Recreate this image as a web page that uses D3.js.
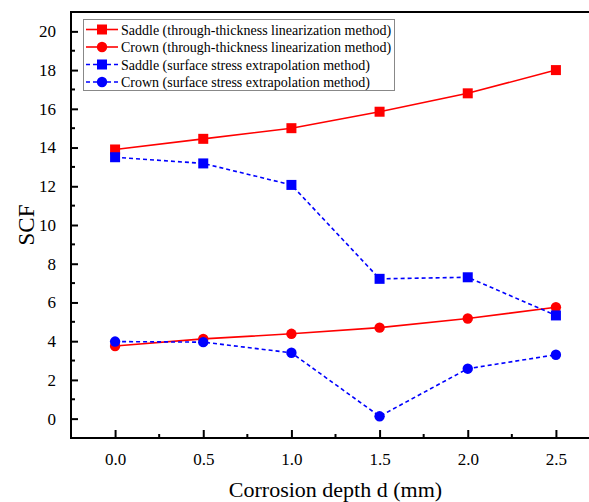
<!DOCTYPE html>
<html>
<head>
<meta charset="utf-8">
<script src="https://cdn.jsdelivr.net/npm/d3@7/dist/d3.min.js"></script>
<style>
  html, body { margin: 0; padding: 0; background: #fff; overflow: hidden; }
  svg text { font-family: "Liberation Serif", "Times New Roman", serif; }
</style>
</head>
<body>
<svg id="chart" width="589" height="502"></svg>
<script>
// Corrosion depth d (mm)
const depths = [0.0, 0.5, 1.0, 1.5, 2.0, 2.5];
// SCF values per method and location
const saddleLinearization = [13.9, 14.45, 15.0, 15.85, 16.8, 18.0];
const crownLinearization  = [3.75, 4.12, 4.38, 4.7, 5.17, 5.75];
const saddleExtrapolation = [13.5, 13.18, 12.07, 7.22, 7.3, 5.33];
const crownExtrapolation  = [3.98, 3.95, 3.4, 0.12, 2.58, 3.3];

const xTicks = [0.0, 0.5, 1.0, 1.5, 2.0, 2.5];
const yTicks = [0, 2, 4, 6, 8, 10, 12, 14, 16, 18, 20];

const seriesNames = [
  "Saddle (through-thickness linearization method)",
  "Crown (through-thickness linearization method)",
  "Saddle (surface stress extrapolation method)",
  "Crown (surface stress extrapolation method)"
];

const series = [
  { name: seriesNames[0], values: saddleLinearization, color: "#ff0000", dash: null, marker: "square" },
  { name: seriesNames[1], values: crownLinearization,  color: "#ff0000", dash: null, marker: "circle" },
  { name: seriesNames[2], values: saddleExtrapolation, color: "#0000ff", dash: "4,3", marker: "square" },
  { name: seriesNames[3], values: crownExtrapolation,  color: "#0000ff", dash: "4,3", marker: "circle" }
];

const FONT = "Liberation Serif";
const svg = d3.select("#chart");
const plot = { left: 71, top: 12, right: 600, bottom: 438 };

const x = d3.scaleLinear().domain([-0.25, 2.75]).range([plot.left, plot.right]);
const y = d3.scaleLinear().domain([-1, 21]).range([plot.bottom, plot.top]);

// Axes with inward ticks
const xAxis = d3.axisBottom(x).tickValues(xTicks).tickFormat(d3.format(".1f"))
  .tickSizeInner(-8).tickSizeOuter(0).tickPadding(15);
const yAxis = d3.axisLeft(y).tickValues(yTicks).tickFormat(d3.format("d"))
  .tickSizeInner(-7).tickSizeOuter(0).tickPadding(15);

// minor ticks
const xMinor = [-0.25, 0.25, 0.75, 1.25, 1.75, 2.25];
const yMinor = d3.range(-1, 22, 2);

const gx = svg.append("g").attr("transform", `translate(0,${plot.bottom})`).call(xAxis)
  .attr("font-family", FONT).attr("font-size", 17);
gx.select(".domain").remove();
gx.selectAll(".tick line").attr("stroke", "#000").attr("stroke-width", 2);
gx.selectAll(".tick text").attr("fill", "#000");
gx.selectAll(".minor").data(xMinor).enter().append("line")
  .attr("x1", d => x(d)).attr("x2", d => x(d)).attr("y1", 0).attr("y2", -4)
  .attr("stroke", "#000").attr("stroke-width", 2);

const gy = svg.append("g").attr("transform", `translate(${plot.left},0)`).call(yAxis)
  .attr("font-family", FONT).attr("font-size", 17);
gy.select(".domain").remove();
gy.selectAll(".tick line").attr("stroke", "#000").attr("stroke-width", 2);
gy.selectAll(".tick text").attr("fill", "#000");
gy.selectAll(".minor").data(yMinor).enter().append("line")
  .attr("x1", 0).attr("x2", 4).attr("y1", d => y(d)).attr("y2", d => y(d))
  .attr("stroke", "#000").attr("stroke-width", 2);

// frame
svg.append("rect")
  .attr("x", plot.left).attr("y", plot.top)
  .attr("width", plot.right - plot.left).attr("height", plot.bottom - plot.top)
  .attr("fill", "none").attr("stroke", "#000").attr("stroke-width", 2);

// axis titles
svg.append("text")
  .attr("x", x(1.25)).attr("y", 497)
  .attr("text-anchor", "middle")
  .attr("font-family", FONT).attr("font-size", 22)
  .text("Corrosion depth d (mm)");

svg.append("text")
  .attr("transform", `translate(34,${y(10)}) rotate(-90)`)
  .attr("text-anchor", "middle")
  .attr("font-family", FONT).attr("font-size", 23)
  .text("SCF");

// series
const line = d3.line().x((d, i) => x(depths[i])).y(d => y(d));

function drawMarker(g, type, cx, cy, color) {
  if (type === "square") {
    g.append("rect").attr("x", cx - 5).attr("y", cy - 5).attr("width", 10).attr("height", 10)
      .attr("fill", color);
  } else {
    g.append("circle").attr("cx", cx).attr("cy", cy).attr("r", 5.2).attr("fill", color);
  }
}

series.forEach(s => {
  const g = svg.append("g");
  g.append("path").datum(s.values)
    .attr("d", line)
    .attr("fill", "none")
    .attr("stroke", s.color)
    .attr("stroke-width", 1.6)
    .attr("stroke-dasharray", s.dash);
  s.values.forEach((v, i) => drawMarker(g, s.marker, x(depths[i]), y(v), s.color));
});

// legend
const legend = svg.append("g");
legend.append("rect")
  .attr("x", 83.5).attr("y", 19.5).attr("width", 311).attr("height", 71)
  .attr("fill", "#fff").attr("stroke", "#888").attr("stroke-width", 1);

series.forEach((s, i) => {
  const ly = 29.5 + i * 17.5;
  legend.append("line")
    .attr("x1", 86).attr("x2", 118).attr("y1", ly).attr("y2", ly)
    .attr("stroke", s.color).attr("stroke-width", 1.6)
    .attr("stroke-dasharray", s.dash);
  drawMarker(legend, s.marker, 102, ly, s.color);
  legend.append("text")
    .attr("x", 121).attr("y", ly + 5)
    .attr("font-family", FONT).attr("font-size", 14)
    .text(s.name);
});
</script>
</body>
</html>
